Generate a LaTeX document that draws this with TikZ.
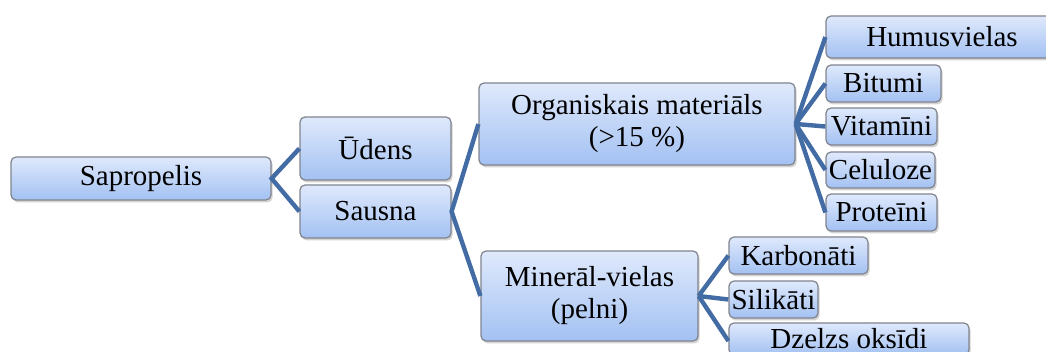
\documentclass[tikz,border=0pt]{standalone}
\usepackage{fontspec}
\setmainfont{Liberation Serif}
\usetikzlibrary{shadows}

\definecolor{boxtop}{RGB}{223,233,252}
\definecolor{boxbot}{RGB}{163,193,242}
\definecolor{boxline}{RGB}{128,132,142}
\definecolor{linkblue}{RGB}{66,108,163}

\tikzset{
  bx/.style={draw=boxline, line width=0.6pt, rounded corners=2.5pt,
    top color=boxtop, bottom color=boxbot, inner sep=1pt, align=center,
    font=\fontsize{14.5}{16}\selectfont,
    drop shadow={shadow xshift=0.8pt, shadow yshift=-1.2pt, opacity=0.35}},
  link/.style={draw=linkblue, line width=2.2pt}
}

\begin{document}
\begin{tikzpicture}[x=0.5pt, y=-0.5pt]
\useasboundingbox (0,0) rectangle (1046,352);
\clip (0,0) rectangle (1046,352);

\node[bx, minimum width=130pt, minimum height=21.5pt] (sap) at (141,178.5) {Sapropelis};

\node[bx, minimum width=75.5pt, minimum height=31.5pt] (ud) at (375.5,148.5) {Ūdens};
\node[bx, minimum width=75.5pt, minimum height=26.5pt] (sau) at (375.5,211.5) {Sausna};

\node[bx, minimum width=158pt, minimum height=41pt] (org) at (637,124) {Organiskais materiāls\\(>15 \%)};
\node[bx, minimum width=108.5pt, minimum height=45pt] (min) at (589.5,296) {Minerāl-vielas\\(pelni)};

\node[bx, minimum width=116pt, minimum height=21pt] (hum) at (942,37) {Humusvielas};
\node[bx, minimum width=57.5pt, minimum height=18.5pt] (bit) at (883.5,83.5) {Bitumi};
\node[bx, minimum width=55.5pt, minimum height=18.5pt] (vit) at (881.5,126.5) {Vitamīni};
\node[bx, minimum width=54.5pt, minimum height=18pt] (cel) at (880.5,170) {Celuloze};
\node[bx, minimum width=55.5pt, minimum height=18.5pt] (pro) at (881.5,212.5) {Proteīni};

\node[bx, minimum width=69.5pt, minimum height=18.5pt] (kar) at (798.5,255.5) {Karbonāti};
\node[bx, minimum width=44.5pt, minimum height=18.5pt] (sil) at (773.5,299.5) {Silikāti};
\node[bx, minimum width=120pt, minimum height=16pt] (dze) at (849,339) {Dzelzs oksīdi};

% links
\draw[link] (ud.west) -- (sap.east) -- (sau.west);
\draw[link] (org.west) -- (sau.east) -- (min.west);
\foreach \n in {hum,bit,vit,cel,pro}
  \draw[link] (org.east) -- (\n.west);
\foreach \n in {kar,sil}
  \draw[link] (min.east) -- (\n.west);
\draw[link] (min.east) -- (dze.west |- 0,341);
\end{tikzpicture}
\end{document}
